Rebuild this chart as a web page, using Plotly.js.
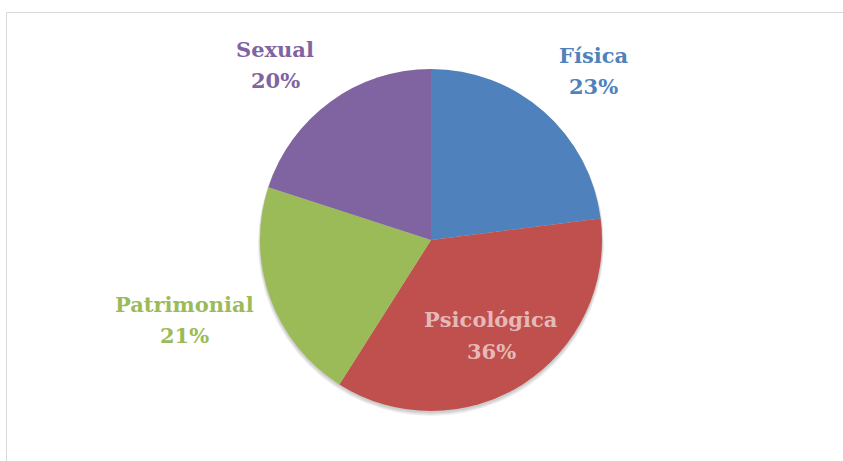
<!DOCTYPE html>
<html><head><meta charset="utf-8">
<script src="https://cdn.plot.ly/plotly-3.0.1.min.js"></script>
<style>html,body{margin:0;padding:0;background:#fff;}#c{width:843px;height:461px;}</style>
</head><body><div id="c"></div>
<script>
const categories = ['Física', 'Psicológica', 'Patrimonial', 'Sexual'];
const values = [23, 36, 21, 20];
const sliceColors = ['#4F81BD', '#C0504D', '#9BBB59', '#8064A2'];
const labelColors = ['#4F81BD', '#E6B9B8', '#9BBB59', '#8064A2'];
// [x center, line1 y, line2 y] in pixels
const labelPos = [[593, 54, 85], [491, 317, 349], [184, 302, 333], [275, 47, 78]];

const W = 843, H = 461;
const total = values.reduce((a, b) => a + b, 0);
const annotations = [];
categories.forEach((c, i) => {
  const lines = [c, Math.round(values[i] / total * 100) + '%'];
  lines.forEach((t, j) => annotations.push({
    xref: 'paper', yref: 'paper',
    x: labelPos[i][0] / W, y: 1 - (labelPos[i][1 + j] + 2) / H,
    xanchor: 'center', yanchor: 'middle',
    text: t, showarrow: false,
    font: {family: 'DejaVu Serif', size: 21, color: labelColors[i], weight: 'bold'}
  }));
});

const cx = 431, cy = 240, r = 171;
const shadows = [];
for (let k = 1; k <= 4; k++) {
  shadows.push({type: 'circle', xref: 'paper', yref: 'paper', layer: 'below',
    x0: (cx - r - k * 0.5) / W, x1: (cx + r + k * 0.5) / W,
    y0: 1 - (cy + r + k + 1) / H, y1: 1 - (cy - r + k * 0.5) / H,
    fillcolor: 'rgba(0,0,0,0.05)', line: {width: 0}});
}

const data = [{
  type: 'pie',
  labels: categories,
  values: values,
  sort: false,
  direction: 'clockwise',
  rotation: 0,
  textinfo: 'none',
  hoverinfo: 'label+percent',
  marker: {colors: sliceColors, line: {width: 0}},
  domain: {x: [(cx - r) / W, (cx + r) / W], y: [1 - (cy + r) / H, 1 - (cy - r) / H]},
  showlegend: false
}];

const layout = {
  width: W, height: H,
  margin: {l: 0, r: 0, t: 0, b: 0},
  paper_bgcolor: '#ffffff',
  showlegend: false,
  annotations: annotations,
  shapes: shadows.concat([
    {type: 'line', xref: 'paper', yref: 'paper', x0: 6.5 / W, x1: 1, y0: 1 - 12.5 / H, y1: 1 - 12.5 / H, line: {color: '#D9D9D9', width: 1}},
    {type: 'line', xref: 'paper', yref: 'paper', x0: 6.5 / W, x1: 6.5 / W, y0: 1 - 12.5 / H, y1: 0, line: {color: '#D9D9D9', width: 1}}
  ])
};
Plotly.newPlot('c', data, layout, {displayModeBar: false, staticPlot: true});
</script></body></html>
